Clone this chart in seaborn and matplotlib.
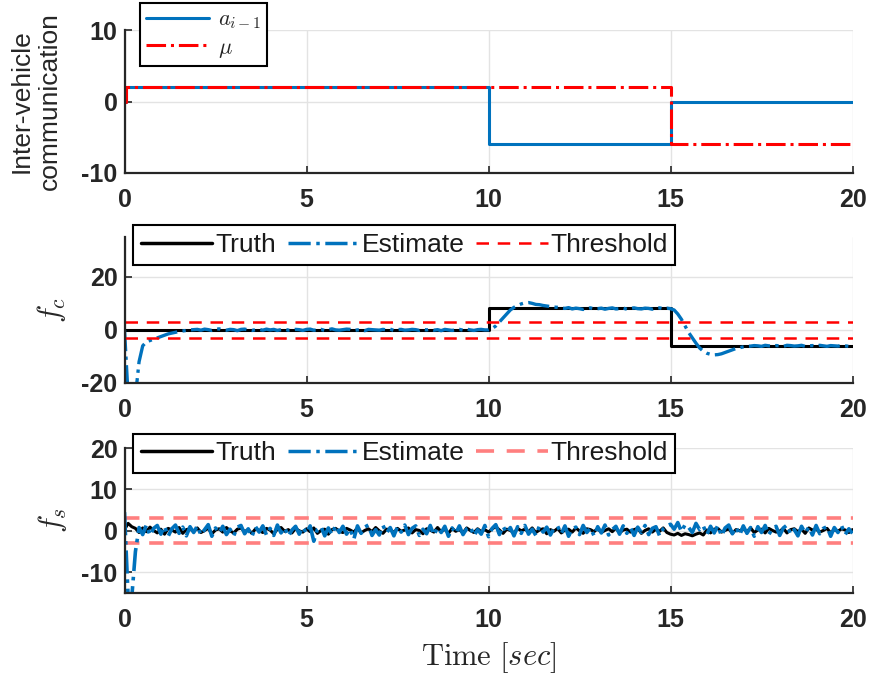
import numpy as np
import pandas as pd
import matplotlib
matplotlib.use("Agg")
import matplotlib.pyplot as plt
import seaborn as sns
from matplotlib.lines import Line2D

# ---------------- data ----------------
# Panel 1: inter-vehicle communication (step signals)
t_a = [0, 0.05, 10, 15, 20]
a_prev = [0, 2, -6, 0, 0]
t_mu = [0, 0.05, 15, 20]
mu = [0, 2, -6, -6]

# Panel 2: f_c
t_fc_truth = [0, 10, 15, 20]
fc_truth = [0, 8.3, -6, -6]
fc_est = [
    0, -25, -25, -25, -12, -6, -4.5, -4, -3.5, -3,
    -2.5, -2, -1.5, -1.2, -0.9, -0.6, -0.4, -0.2, 0, 0.1,
    0.2, -0.1, 0.3, 0.1, -0.2, 0.2, 0.4, 0, -0.1, 0.2,
    0.1, -0.3, 0.2, 0.3, 0, -0.2, 0.1, 0.2, -0.1, 0.3,
    0, 0.2, -0.2, 0.1, 0.3, -0.1, 0, 0.2, 0.1, -0.2,
    0.2, 0.3, -0.1, 0, 0.2, -0.2, 0.1, 0.4, 0, -0.1,
    0.1, 0.3, 0.2, -0.2, 0, 0.1, -0.3, 0.2, 0.1, 0,
    -0.1, 0.2, 0, 0.3, -0.2, 0.1, 0.2, -0.1, 0, 0.2,
    0.1, -0.2, 0.2, 0, 0.3, -0.1, 0.1, -0.3, 0.2, 0,
    -0.2, 0.1, 0.2, -0.1, 0.3, 0, -0.2, 0.1, 0.2, 0,
    0, 0.5, 1.5, 3, 4.5, 6, 7.5, 8.5, 9.2, 9.8,
    10.2, 10.3, 10, 9.6, 9.5, 9.2, 9, 8.8, 8.6, 8.5,
    8.3, 8.1, 8.4, 7.9, 8.2, 8, 7.7, 8.1, 8.3, 7.9,
    8, 8.2, 7.8, 8.1, 8.3, 7.9, 8, 8.2, 7.8, 8.1,
    8.3, 8, 7.9, 8.2, 8.1, 7.8, 8.2, 8.3, 8, 8.2,
    8, 7.5, 6, 4, 1.5, -1, -3, -5, -6.8, -8,
    -8.8, -9.2, -9.4, -9.3, -9, -8.5, -8, -7.5, -7, -6.7,
    -6.4, -6.2, -6.1, -5.9, -6, -6.2, -5.8, -6, -6.1, -5.9,
    -6, -6.2, -5.8, -5.9, -6.1, -6, -5.8, -6.2, -6, -5.9,
    -6.1, -5.8, -6, -6.2, -5.9, -6, -6.1, -5.8, -6, -6.2,
    -6.1,
]
fc_threshold = [3, -3]

# Panel 3: f_s
fs_truth = [
    0.3, 1.8, 1.0, 0.6, -0.4, 0.7, -0.2, 0.9, 0.1, -0.5,
    0.4, -0.8, 0.6, 0.2, -0.3, 0.8, -0.6, 0.3, 0.5, -0.2,
    0.7, -0.4, 0.1, 0.6, -0.7, 0.2, 0.5, -0.3, 0.8, 0,
    -0.5, 0.4, 0.7, -0.2, 0.3, -0.6, 0.5, 0.1, -0.4, 0.6,
    0.2, -0.7, 0.4, 0.8, -0.1, 0.3, -0.5, 0.6, 0, -0.3,
    0.5, -0.2, 0.7, -0.6, 0.1, 0.4, -0.8, 0.3, 0.6, -0.1,
    -0.4, 0.6, 0.2, -0.3, 0.7, -0.5, 0.1, 0.5, -0.2, 0.8,
    0, -0.6, 0.4, 0.3, -0.4, 0.6, -0.1, 0.2, 0.7, -0.5,
    0.3, 0.1, -0.7, 0.5, 0.2, -0.3, 0.8, -0.2, 0.4, -0.6,
    0.6, -0.1, 0.3, -0.5, 0.7, 0.1, -0.4, 0.5, -0.2, 0.3,
    -0.3, 0.5, 1.0, 0.2, -0.6, 0.4, 0.1, -0.5, 0.6, 0,
    0.4, -0.2, 0.7, -0.4, 0.2, 0.5, -0.7, 0.3, -0.1, 0.6,
    -0.5, 0.2, 0.4, -0.3, 0.7, 0, -0.6, 0.5, 0.3, -0.2,
    0.6, -0.4, 0.1, 0.5, -0.2, 0.7, -0.5, 0.2, 0.4, -0.3,
    0.3, 0.6, -0.6, 0.1, 0.5, -0.3, 0.4, -0.1, 0.7, -0.4,
    -0.8, -1.0, -0.6, -1.1, -0.7, -0.9, -1.2, -0.8, -0.5, -1.0,
    0.2, -0.5, 0.4, 0.6, -0.3, 0.1, 0.5, -0.6, 0.3, 0,
    0.5, -0.2, 0.7, -0.4, 0.2, 0.4, -0.5, 0.6, 0.1, -0.3,
    -0.1, 0.6, -0.5, 0.3, 0.5, -0.2, 0.4, -0.6, 0.7, 0.2,
    0.4, -0.3, 0.1, 0.6, -0.5, 0.3, -0.1, 0.5, 0.2, -0.4,
    0.3,
]
fs_est = [
    4.5, -16, -16, -5, 0.8, -0.9, 1.4, -1.1, 0.6, 1.3,
    -0.8, 1.1, -1.3, 0.5, 1.4, -0.6, 0.9, -1.2, 1.0, -0.4,
    1.2, -1.0, 0.3, 1.5, -1.3, 0.7, -0.5, 1.1, -0.9, 0.4,
    -1.2, 0.9, 1.3, -0.7, 0.5, -1.4, 1.0, -0.3, 1.2, -1.0,
    0.6, -1.1, 1.4, -0.5, 0.8, -1.3, 0.2, 1.1, -0.8, 0.9,
    -0.6, 1.2, -2.5, 0.4, 1.0, -1.2, 0.7, -0.9, 1.3, -0.4,
    1.1, -0.8, 0.5, -2.0, 1.2, -0.6, 0.9, 1.4, -1.1, 0.3,
    -1.0, 1.3, -0.5, 0.8, -1.2, 1.0, -0.3, 1.4, -0.9, 0.6,
    1.2, -1.1, 0.4, -0.7, 1.3, -1.0, 0.8, -0.4, 1.1, -1.3,
    0.7, -0.6, 1.2, -0.9, 0.5, 1.0, -1.2, 0.3, -0.8, 1.3,
    -1.4, 0.6, 1.5, -0.9, 1.1, -0.5, 0.8, -1.2, 1.0, -0.6,
    1.3, -0.8, 0.4, -1.1, 1.2, -0.3, 0.9, -1.0, 0.6, 1.1,
    -0.7, 1.2, -1.3, 0.5, 0.9, -0.9, 1.3, -0.4, 0.7, -1.2,
    1.0, -0.5, 1.4, -1.0, 0.3, 1.1, -0.8, 1.2, -0.6, 0.8,
    -1.1, 0.9, -0.4, 1.3, -0.9, 0.6, 1.0, -1.2, 0.5, 1.2,
    1.6, 0.4, 2.0, -0.2, 1.5, 0.8, -0.4, 1.8, 0.3, 1.2,
    -0.9, 1.1, -0.5, 1.3, -1.2, 0.7, 1.4, -0.7, 0.9, -1.0,
    1.2, -0.6, 0.8, -1.3, 1.0, -0.4, 1.3, -0.9, 0.5, 1.1,
    -1.1, 0.7, 1.4, -0.8, 0.3, -1.2, 1.1, -0.5, 0.9, -1.0,
    1.3, -0.7, 0.6, 1.0, -1.3, 0.8, -0.4, 1.2, -0.9, 0.5,
    -0.6,
]
fs_threshold = [3, -3]

x_ticks = [0, 5, 10, 15, 20]

# ---------------- style ----------------
sns.set_style("ticks")
plt.rcParams["font.family"] = ["Liberation Sans", "DejaVu Sans"]
plt.rcParams["mathtext.fontset"] = "cm"
plt.rcParams["axes.unicode_minus"] = False

BLUE = "#0072BD"
RED = "#FF0000"
PINK = "#FF7F7F"
TXT = "#262626"
GRID = "#E3E3E3"

fig = plt.figure(figsize=(8.69, 6.79), dpi=100)
W, H = 869, 679
def rect(l, r, t, b):
    return [l / W, 1 - b / H, (r - l) / W, (b - t) / H]

ax1 = fig.add_axes(rect(124.5, 852.5, 30, 173))
ax2 = fig.add_axes(rect(124.5, 852.5, 237, 383))
ax3 = fig.add_axes(rect(124.5, 852.5, 448, 593))

def style_axes(ax, ylim, yticks):
    ax.set_xlim(0, 20)
    ax.set_ylim(*ylim)
    ax.set_xticks(x_ticks)
    ax.set_yticks(yticks)
    ax.grid(True, color=GRID, linewidth=1.0)
    ax.set_axisbelow(True)
    for s in ["top", "right"]:
        ax.spines[s].set_visible(False)
    for s in ["left", "bottom"]:
        ax.spines[s].set_color(TXT)
        ax.spines[s].set_linewidth(1.6)
    ax.tick_params(direction="in", length=5, width=1.2, color=TXT,
                   labelsize=18, labelcolor=TXT)
    ax.tick_params(axis="x", pad=11)
    ax.tick_params(axis="y", pad=5)
    for lab in ax.get_xticklabels() + ax.get_yticklabels():
        lab.set_fontweight("bold")
    ax.set_xlabel("")

# Panel 1
df_a = pd.DataFrame({"t": t_a, "v": a_prev})
df_mu = pd.DataFrame({"t": t_mu, "v": mu})
sns.lineplot(data=df_a, x="t", y="v", ax=ax1, color=BLUE, linewidth=2.2,
             drawstyle="steps-post", estimator=None, sort=False)
sns.lineplot(data=df_mu, x="t", y="v", ax=ax1, color=RED, linewidth=2.2,
             linestyle="-.", drawstyle="steps-post", estimator=None, sort=False)
style_axes(ax1, (-10, 10), [-10, 0, 10])
ax1.set_ylabel("Inter-vehicle\ncommunication", fontsize=19, color=TXT,
               labelpad=14, linespacing=1.2)
h1 = [Line2D([], [], color=BLUE, lw=2.2),
      Line2D([], [], color=RED, lw=2.2, ls="-.")]
leg1 = ax1.legend(h1, [r"$a_{i-1}$", r"$\mu$"], loc="upper left",
                  bbox_to_anchor=(0.021, 1.19), borderaxespad=0, fontsize=16,
                  handlelength=2.8, handletextpad=0.4, labelspacing=0.25,
                  fancybox=False, framealpha=1, edgecolor="black",
                  borderpad=0.3)
leg1.get_frame().set_linewidth(1.5)

# Panel 2
t_est = np.linspace(0, 20, len(fc_est))
df_fct = pd.DataFrame({"t": t_fc_truth, "v": fc_truth})
df_fce = pd.DataFrame({"t": t_est, "v": fc_est})
sns.lineplot(data=df_fct, x="t", y="v", ax=ax2, color="black", linewidth=2.2,
             drawstyle="steps-post", estimator=None, sort=False)
sns.lineplot(data=df_fce, x="t", y="v", ax=ax2, color=BLUE, linewidth=2.4,
             linestyle="-.", estimator=None, sort=False)
for th in fc_threshold:
    ax2.axhline(th, color=RED, linewidth=1.8, linestyle=(0, (5, 3.5)))
style_axes(ax2, (-20, 35), [-20, 0, 20])
ax2.set_ylabel(r"$f_c$", fontsize=22, color=TXT, labelpad=10)

def three_legend(ax, thr_color, thr_lw, top):
    hs = [Line2D([], [], color="black", lw=2.5),
          Line2D([], [], color=BLUE, lw=2.5, ls="-."),
          Line2D([], [], color=thr_color, lw=thr_lw, ls=(0, (5, 3.5)))]
    lg = ax.legend(hs, ["Truth", "Estimate", "Threshold"], loc="upper left",
                   bbox_to_anchor=(0.012, top), borderaxespad=0, ncol=3,
                   fontsize=19, handlelength=2.7, handletextpad=0.1,
                   columnspacing=0.45, fancybox=False, framealpha=1,
                   edgecolor="black", borderpad=0.3)
    lg.get_frame().set_linewidth(1.5)
    for tx in lg.get_texts():
        tx.set_color("#1a1a1a")

three_legend(ax2, RED, 1.8, 1.082)

# Panel 3
t_fs = np.linspace(0, 20, len(fs_truth))
df_fst = pd.DataFrame({"t": t_fs, "v": fs_truth})
df_fse = pd.DataFrame({"t": np.linspace(0, 20, len(fs_est)), "v": fs_est})
for th in fs_threshold:
    ax3.axhline(th, color=PINK, linewidth=2.6, linestyle=(0, (4, 2.7)))
sns.lineplot(data=df_fst, x="t", y="v", ax=ax3, color="black", linewidth=2.2,
             estimator=None, sort=False)
sns.lineplot(data=df_fse, x="t", y="v", ax=ax3, color=BLUE, linewidth=2.6,
             linestyle="-.", estimator=None, sort=False)
style_axes(ax3, (-15, 20), [-10, 0, 10, 20])
ax3.set_ylabel(r"$f_s$", fontsize=22, color=TXT, labelpad=9)
ax3.set_xlabel(r"$\mathrm{Time}\ [sec]$", fontsize=22, color=TXT, labelpad=6)
three_legend(ax3, PINK, 2.6, 1.10)

fig.savefig("out.png", dpi=100)
